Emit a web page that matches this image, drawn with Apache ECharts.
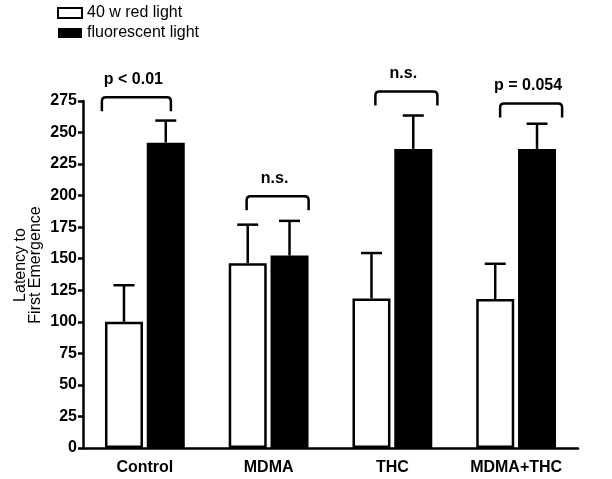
<!DOCTYPE html>
<html>
<head>
<meta charset="utf-8">
<script src="https://cdn.jsdelivr.net/npm/echarts@6/dist/echarts.min.js"></script>
<style>
html,body{margin:0;padding:0;background:#fff;}
#chart{width:612px;height:479px;}
</style>
</head>
<body>
<div id="chart"></div>
<script>
// ---- data ----
const categories = ['Control', 'MDMA', 'THC', 'MDMA+THC'];
const redLight = [100, 146.5, 118.5, 118];
const redLightErr = [29, 30.5, 36, 28];
const fluorescent = [242, 152.5, 237, 237];
const fluorescentErr = [17.5, 27.5, 26.5, 20];
const bracketTop = [278, 199.5, 282.5, 273];
const bracketLabels = ['p < 0.01', 'n.s.', 'n.s.', 'p = 0.054'];
const yMin = 0, yMax = 275, yStep = 25;
const yTitle = 'Latency to\nFirst Emergence';

// ---- layout / style ----
const FONT = '"Liberation Sans", Arial, sans-serif';
const BAR_W = 38;
const BAR_OFF = 20.9;
const LW = 2.5;
const CAP = 10.5;
const LEG = 14;
const bracketSpan = [[-43, 26], [-22, 40], [-17, 45], [-16, 46]];

function errRender(offset) {
  return function (params, api) {
    const i = api.value(0), v = api.value(1), e = api.value(2);
    const p0 = api.coord([i, v]);
    const p1 = api.coord([i, v + e]);
    const x = p0[0] + offset;
    return {
      type: 'group',
      children: [
        {type: 'line', shape: {x1: x, y1: p0[1], x2: x, y2: p1[1]}, style: {stroke: '#000', lineWidth: LW}},
        {type: 'line', shape: {x1: x - CAP, y1: p1[1], x2: x + CAP, y2: p1[1]}, style: {stroke: '#000', lineWidth: LW}}
      ]
    };
  };
}

function bracketRender(params, api) {
  const i = api.value(0), top = api.value(1);
  const p = api.coord([i, top]);
  const span = bracketSpan[i];
  const x1 = p[0] + span[0], x2 = p[0] + span[1];
  const yt = p[1], yb = yt + LEG, r = 4;
  const d = 'M' + x1 + ' ' + yb + ' L' + x1 + ' ' + (yt + r) +
    ' Q' + x1 + ' ' + yt + ' ' + (x1 + r) + ' ' + yt +
    ' L' + (x2 - r) + ' ' + yt +
    ' Q' + x2 + ' ' + yt + ' ' + x2 + ' ' + (yt + r) +
    ' L' + x2 + ' ' + yb;
  return {
    type: 'group',
    children: [
      {type: 'path', shape: {pathData: d}, style: {stroke: '#000', lineWidth: LW, fill: 'none'}},
      {type: 'text', style: {text: bracketLabels[i], x: (x1 + x2) / 2 - 3, y: yt - 10,
        align: 'center', verticalAlign: 'bottom',
        font: 'bold 16px ' + FONT, fill: '#000'}}
    ]
  };
}

const chart = echarts.init(document.getElementById('chart'), null, {renderer: 'canvas'});
chart.setOption({
  animation: false,
  backgroundColor: '#fff',
  textStyle: {fontFamily: FONT},
  legend: {
    data: [{name: '40 w red light', icon: 'rect'}, {name: 'fluorescent light', icon: 'rect'}],
    orient: 'vertical',
    left: 57, top: 5, padding: 0,
    itemWidth: 24, itemHeight: 10, itemGap: 4, itemTextGap: 6,
    textStyle: {fontSize: 16, color: '#000', fontFamily: FONT}
  },
  graphic: [{
    type: 'text',
    x: 28, y: 265,
    rotation: Math.PI / 2,
    style: {text: yTitle, align: 'center', verticalAlign: 'middle',
      font: '16px ' + FONT, lineHeight: 15, fill: '#000'}
  }],
  grid: {left: 83, right: 34, top: 101, bottom: 31, containLabel: false},
  xAxis: {
    type: 'category',
    data: categories,
    axisLine: {lineStyle: {color: '#000', width: LW}},
    axisTick: {alignWithLabel: true, length: 5, lineStyle: {color: '#000', width: LW}},
    axisLabel: {color: '#000', fontWeight: 'bold', fontSize: 16, margin: 12, fontFamily: FONT}
  },
  yAxis: {
    type: 'value',
    min: yMin, max: yMax, interval: yStep,
    splitLine: {show: false},
    axisLine: {show: true, lineStyle: {color: '#000', width: LW}},
    axisTick: {show: true, length: 5, lineStyle: {color: '#000', width: LW}},
    axisLabel: {color: '#000', fontWeight: 'bold', fontSize: 16, margin: 6, fontFamily: FONT}
  },
  series: [
    {
      name: '40 w red light', type: 'bar', data: redLight,
      barWidth: BAR_W, barGap: '10%',
      itemStyle: {color: '#fff', borderColor: '#000', borderWidth: LW}
    },
    {
      name: 'fluorescent light', type: 'bar', data: fluorescent,
      barWidth: BAR_W, barGap: '10%',
      itemStyle: {color: '#000'}
    },
    {
      type: 'custom', name: 'err1', z: 5,
      data: categories.map((c, i) => [i, redLight[i], redLightErr[i]]),
      renderItem: errRender(-BAR_OFF), silent: true
    },
    {
      type: 'custom', name: 'err2', z: 5,
      data: categories.map((c, i) => [i, fluorescent[i], fluorescentErr[i]]),
      renderItem: errRender(BAR_OFF), silent: true
    },
    {
      type: 'custom', name: 'brackets', z: 5, clip: false,
      data: categories.map((c, i) => [i, bracketTop[i]]),
      renderItem: bracketRender, silent: true
    }
  ]
});
</script>
</body>
</html>
